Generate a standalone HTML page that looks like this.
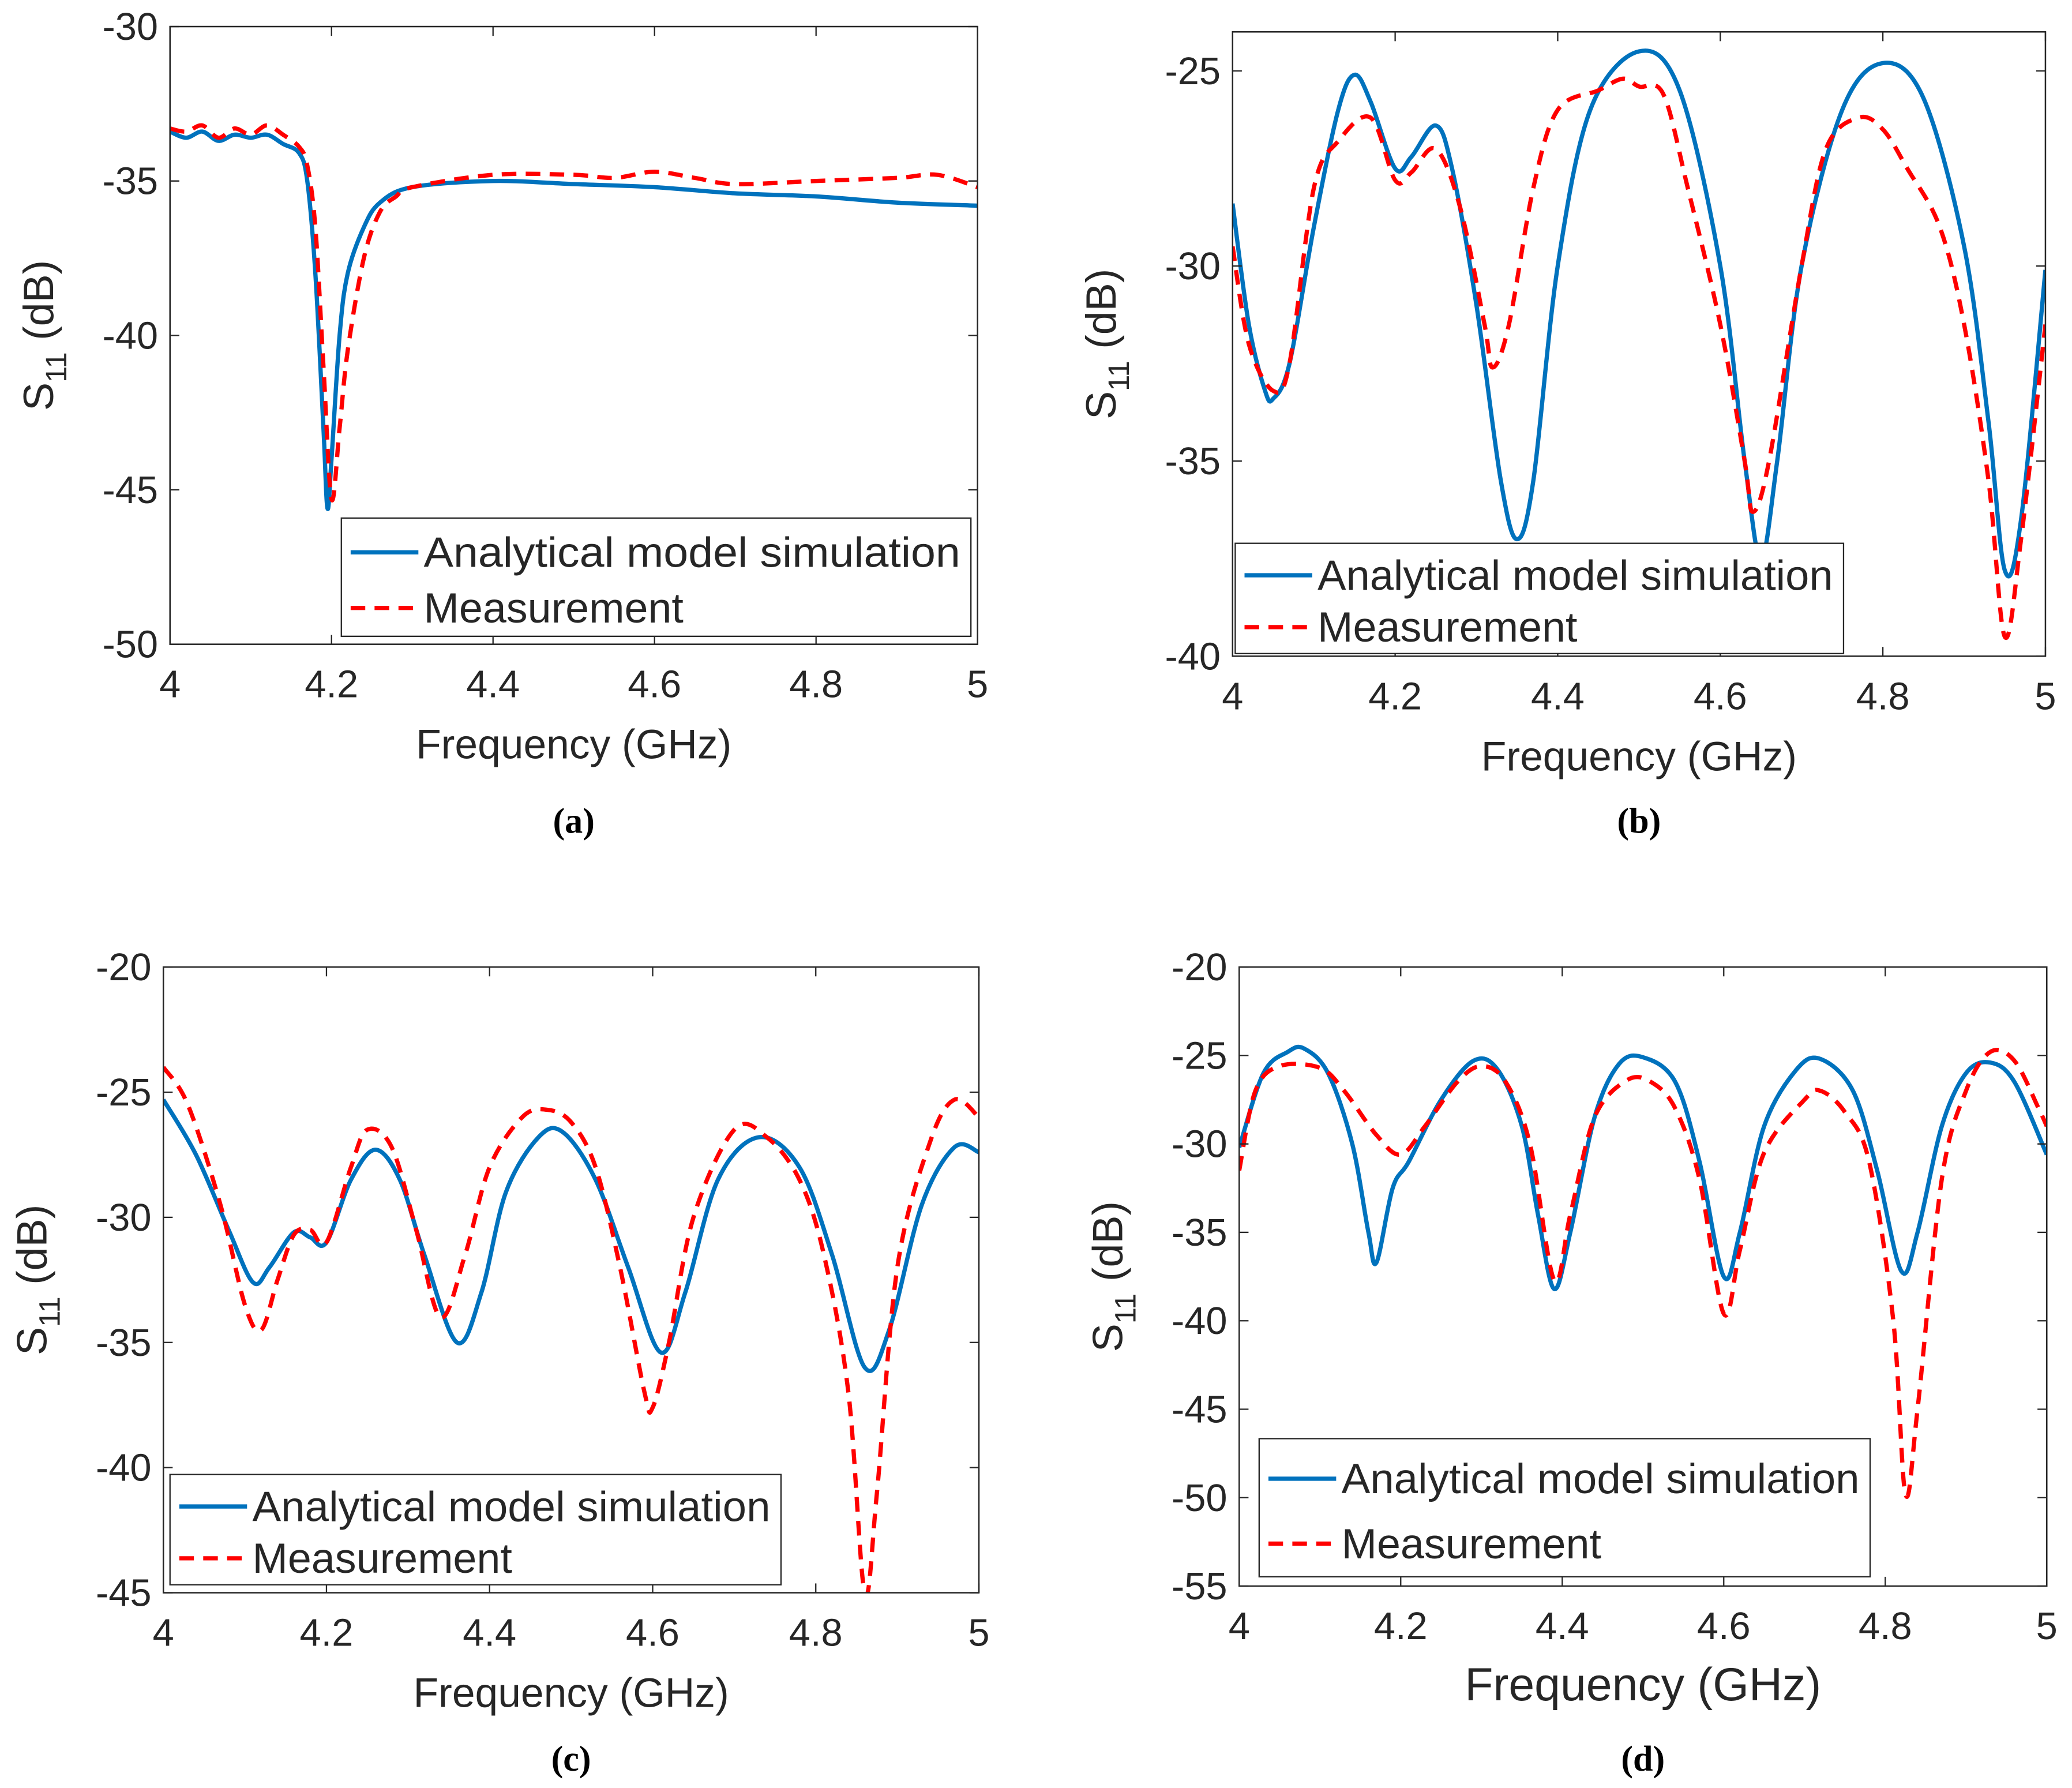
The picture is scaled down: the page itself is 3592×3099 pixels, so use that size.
<!DOCTYPE html>
<html><head><meta charset="utf-8"><style>
html,body{margin:0;padding:0;background:#fff;}
svg{display:block;}
text{font-family:"Liberation Sans",sans-serif;fill:#262626;}
.cap{font-family:"Liberation Serif",serif;font-weight:bold;fill:#000;}
</style></head><body>
<svg id="fig" xmlns="http://www.w3.org/2000/svg" width="3592" height="3099" viewBox="0 0 1560 1346" preserveAspectRatio="none"></svg>
<script>
// Panel (a)
const aFreqSim=[4.0,4.02,4.04,4.06,4.08,4.1,4.12,4.14,4.16,4.17,4.18,4.19,4.195,4.2,4.21,4.22,4.24,4.26,4.3,4.4,4.5,4.6,4.7,4.8,4.9,5.0];
const aSim=[-33.4,-33.6,-33.4,-33.7,-33.5,-33.6,-33.5,-33.8,-34.1,-35,-38,-43,-45.6,-44,-40,-38,-36.5,-35.7,-35.2,-35.0,-35.1,-35.2,-35.4,-35.5,-35.7,-35.8];
const aFreqMeas=[4.0,4.02,4.04,4.06,4.08,4.1,4.12,4.14,4.16,4.17,4.18,4.19,4.2,4.21,4.22,4.24,4.26,4.28,4.3,4.4,4.5,4.55,4.6,4.65,4.7,4.8,4.9,4.95,5.0];
const aMeas=[-33.3,-33.4,-33.2,-33.6,-33.3,-33.5,-33.2,-33.5,-33.9,-34.5,-36.5,-41,-45.3,-43,-40.5,-37.5,-36,-35.5,-35.2,-34.8,-34.8,-34.9,-34.7,-34.9,-35.1,-35,-34.9,-34.8,-35.2];
const aYTicks=[-30,-35,-40,-45,-50];
// Panel (b)
const bFreqSim=[4.0,4.02,4.04,4.05,4.07,4.1,4.13,4.15,4.17,4.2,4.22,4.25,4.27,4.3,4.33,4.35,4.37,4.4,4.44,4.5,4.55,4.6,4.63,4.65,4.67,4.7,4.75,4.8,4.85,4.9,4.93,4.95,4.97,5.0];
const bSim=[-28.4,-31.5,-33.2,-33.4,-32.5,-29,-26,-25.1,-25.8,-27.5,-27.2,-26.4,-27.5,-31,-35.5,-37,-35.5,-30,-26,-24.5,-25.5,-30,-35,-37.5,-35,-30,-26,-24.8,-25.7,-29.5,-34,-37.8,-36.5,-30.1];
const bFreqMeas=[4.0,4.02,4.05,4.07,4.1,4.13,4.17,4.2,4.22,4.25,4.28,4.31,4.32,4.34,4.37,4.4,4.45,4.48,4.5,4.53,4.56,4.6,4.63,4.64,4.66,4.7,4.73,4.77,4.8,4.83,4.87,4.9,4.93,4.95,4.97,5.0];
const bMeas=[-29.5,-32,-33.2,-32.5,-28,-26.8,-26.2,-27.8,-27.6,-27,-28.5,-31.5,-32.6,-31.5,-28,-26,-25.5,-25.2,-25.4,-25.6,-28,-31.5,-35,-36.3,-35,-30,-27,-26.2,-26.5,-27.5,-29,-31.5,-35.5,-39.5,-37,-31.5];
const bYTicks=[-25,-30,-35,-40];
// Panel (c)
const cFreqSim=[4.0,4.04,4.08,4.11,4.13,4.16,4.18,4.2,4.23,4.26,4.29,4.32,4.36,4.39,4.42,4.46,4.49,4.53,4.57,4.61,4.64,4.68,4.73,4.78,4.82,4.86,4.89,4.93,4.97,5.0];
const cSim=[-25.3,-27.5,-30.5,-32.6,-32,-30.6,-30.8,-31,-28.5,-27.3,-28.5,-31.5,-35,-33,-29,-26.8,-26.6,-28.5,-32,-35.4,-33,-28.5,-26.8,-28,-31.5,-36,-34.5,-29.5,-27.2,-27.4];
const cFreqMeas=[4.0,4.03,4.07,4.1,4.12,4.14,4.16,4.18,4.2,4.23,4.25,4.28,4.31,4.34,4.37,4.4,4.44,4.47,4.5,4.53,4.56,4.59,4.6,4.62,4.65,4.7,4.74,4.78,4.81,4.84,4.86,4.875,4.9,4.94,4.97,5.0];
const cMeas=[-24,-25.5,-29.5,-33.5,-34.5,-32.5,-30.7,-30.5,-31,-28,-26.5,-27.2,-30.5,-34,-31.5,-28,-26,-25.7,-26.2,-28,-32,-37,-37.6,-35,-30,-26.5,-26.8,-28.5,-31.5,-37,-45,-41,-32,-27,-25.3,-26];
const cYTicks=[-20,-25,-30,-35,-40,-45];
// Panel (d)
const dFreqSim=[4.0,4.03,4.06,4.08,4.11,4.14,4.16,4.17,4.19,4.21,4.25,4.29,4.32,4.35,4.37,4.39,4.41,4.44,4.47,4.5,4.54,4.57,4.6,4.62,4.65,4.69,4.72,4.76,4.79,4.82,4.84,4.87,4.9,4.93,4.96,5.0];
const dSim=[-30.2,-26,-24.8,-24.6,-26,-30,-35,-36.7,-32.5,-31,-27.5,-25.3,-25.8,-29,-34,-38.2,-35,-28.5,-25.5,-25.1,-26.5,-31,-37.5,-35,-29,-25.8,-25.2,-27,-31.5,-37.2,-35,-29,-26,-25.4,-26.5,-30.6];
const dFreqMeas=[4.0,4.02,4.05,4.1,4.13,4.17,4.2,4.23,4.27,4.3,4.33,4.36,4.39,4.41,4.44,4.48,4.51,4.54,4.57,4.6,4.62,4.65,4.7,4.72,4.75,4.78,4.81,4.825,4.84,4.87,4.9,4.93,4.96,4.99,5.0];
const dMeas=[-31.5,-27,-25.6,-25.7,-27,-29.5,-30.6,-29,-26.5,-25.6,-26.5,-30,-37.7,-34,-28.5,-26.4,-26.5,-28,-32,-39.6,-36,-30.5,-27.5,-27,-28.2,-31,-40,-49.8,-45,-32,-27,-24.8,-25.3,-28,-29];
const dYTicks=[-20,-25,-30,-35,-40,-45,-50,-55];
const xTicks=[4,4.2,4.4,4.6,4.8,5];
const xTickLabels=["4","4.2","4.4","4.6","4.8","5"];

const NS="http://www.w3.org/2000/svg";
const svg=document.getElementById('fig');
function mk(tag,attrs,parent){const e=document.createElementNS(NS,tag);for(const k in attrs)e.setAttribute(k,attrs[k]);(parent||svg).appendChild(e);return e;}
function smoothPath(pts){let d='M'+pts[0][0].toFixed(2)+','+pts[0][1].toFixed(2);
 for(let i=0;i<pts.length-1;i++){const p0=pts[i-1]||pts[i],p1=pts[i],p2=pts[i+1],p3=pts[i+2]||p2;
  const c1=[p1[0]+(p2[0]-p0[0])/6,p1[1]+(p2[1]-p0[1])/6],c2=[p2[0]-(p3[0]-p1[0])/6,p2[1]-(p3[1]-p1[1])/6];
  d+=' C'+c1[0].toFixed(2)+','+c1[1].toFixed(2)+' '+c2[0].toFixed(2)+','+c2[1].toFixed(2)+' '+p2[0].toFixed(2)+','+p2[1].toFixed(2);}
 return d;}

function panel(id,box,ymin,ymax,yTicks,fs,fm,vs,vm,leg,cap){
 const g=mk('g',{});
 
 
 const xS=f=>box.x0+(f-4)/(5-4)*(box.x1-box.x0);
 const yS=v=>box.y1-(v-ymin)/(ymax-ymin)*(box.y1-box.y0);
 const clip=mk('clipPath',{id:'clip'+id},g);mk('rect',{x:box.x0,y:box.y0,width:box.x1-box.x0,height:box.y1-box.y0},clip);
 const sim=mk('path',{d:smoothPath(fs.map((f,i)=>[xS(f),yS(vs[i])])),fill:'none',stroke:'#0072bd','stroke-width':3.2,'stroke-linejoin':'round','clip-path':'url(#clip'+id+')'},g);
 
 
 const meas=mk('path',{d:smoothPath(fm.map((f,i)=>[xS(f),yS(vm[i])])),fill:'none',stroke:'#ff0000','stroke-width':3.2,'stroke-dasharray':'11,7','clip-path':'url(#clip'+id+')'},g);
 
 
 const frame=mk('rect',{x:box.x0,y:box.y0,width:box.x1-box.x0,height:box.y1-box.y0,fill:'none',stroke:'#262626','stroke-width':1.1},g);
 
 
 xTicks.forEach((t,i)=>{const x=xS(t);
  mk('line',{x1:x,x2:x,y1:box.y1,y2:box.y1-7,stroke:'#262626','stroke-width':1},g);
  mk('line',{x1:x,x2:x,y1:box.y0,y2:box.y0+7,stroke:'#262626','stroke-width':1},g);
  const tx=mk('text',{x:x,y:box.y1+40,'font-size':29,'text-anchor':'middle'},g);tx.textContent=xTickLabels[i];
  
  });
 yTicks.forEach(t=>{const y=yS(t);
  mk('line',{x1:box.x0,x2:box.x0+7,y1:y,y2:y,stroke:'#262626','stroke-width':1},g);
  mk('line',{x1:box.x1,x2:box.x1-7,y1:y,y2:y,stroke:'#262626','stroke-width':1},g);
  const tx=mk('text',{x:box.x0-9,y:y+10,'font-size':29,'text-anchor':'end'},g);tx.textContent=String(t);
  
  });
 const xl=mk('text',{x:(box.x0+box.x1)/2,y:box.y1+86,'font-size':box.xlfs||31,'text-anchor':'middle'},g);xl.textContent='Frequency (GHz)';
 
 
 const yc=(box.y0+box.y1)/2,lx=box.x0-88;
 const yl=mk('text',{x:lx,y:yc,'font-size':32,'text-anchor':'middle',transform:'rotate(-90 '+lx+' '+yc+')'},g);
 yl.innerHTML='S<tspan font-size="22" dy="10">11</tspan><tspan dy="-10"> (dB)</tspan>';
 
 
 const lg=mk('g',{},g);
 
 
 mk('rect',{x:leg.x0,y:leg.y0,width:leg.x1-leg.x0,height:leg.y1-leg.y0,fill:'#fff',stroke:'#262626','stroke-width':1},lg);
 const r1=leg.y0+(leg.y1-leg.y0)*0.29,r2=leg.y0+(leg.y1-leg.y0)*0.76;
 mk('line',{x1:leg.x0+7,x2:leg.x0+58,y1:r1,y2:r1,stroke:'#0072bd','stroke-width':3.2},lg);
 mk('line',{x1:leg.x0+7,x2:leg.x0+58,y1:r2,y2:r2,stroke:'#ff0000','stroke-width':3.2,'stroke-dasharray':'11,7'},lg);
 const t1=mk('text',{x:leg.x0+62,y:r1+11,'font-size':32,textLength:leg.x1-leg.x0-70,lengthAdjust:'spacingAndGlyphs'},lg);t1.textContent='Analytical model simulation';
 
 
 const t2=mk('text',{x:leg.x0+62,y:r2+11,'font-size':32},lg);t2.textContent='Measurement';
 
 
 const c=mk('text',{x:(box.x0+box.x1)/2,y:cap,'font-size':27,'text-anchor':'middle','class':'cap'},g);c.textContent='('+id+')';
 
 
}
panel('a',{x0:128,x1:736,y0:20,y1:485},-50,-30,aYTicks,aFreqSim,aFreqMeas,aSim,aMeas,{x0:257,x1:731,y0:390,y1:479},627);
panel('b',{x0:928,x1:1540,y0:24,y1:494},-40,-24,bYTicks,bFreqSim,bFreqMeas,bSim,bMeas,{x0:930,x1:1388,y0:409,y1:492},627);
panel('c',{x0:123,x1:737,y0:728,y1:1199},-45,-20,cYTicks,cFreqSim,cFreqMeas,cSim,cMeas,{x0:128,x1:588,y0:1110,y1:1193},1333);
panel('d',{x0:933,x1:1541,y0:728,y1:1194,xlfs:35},-55,-20,dYTicks,dFreqSim,dFreqMeas,dSim,dMeas,{x0:948,x1:1408,y0:1083,y1:1187},1333);
</script>
</body></html>
